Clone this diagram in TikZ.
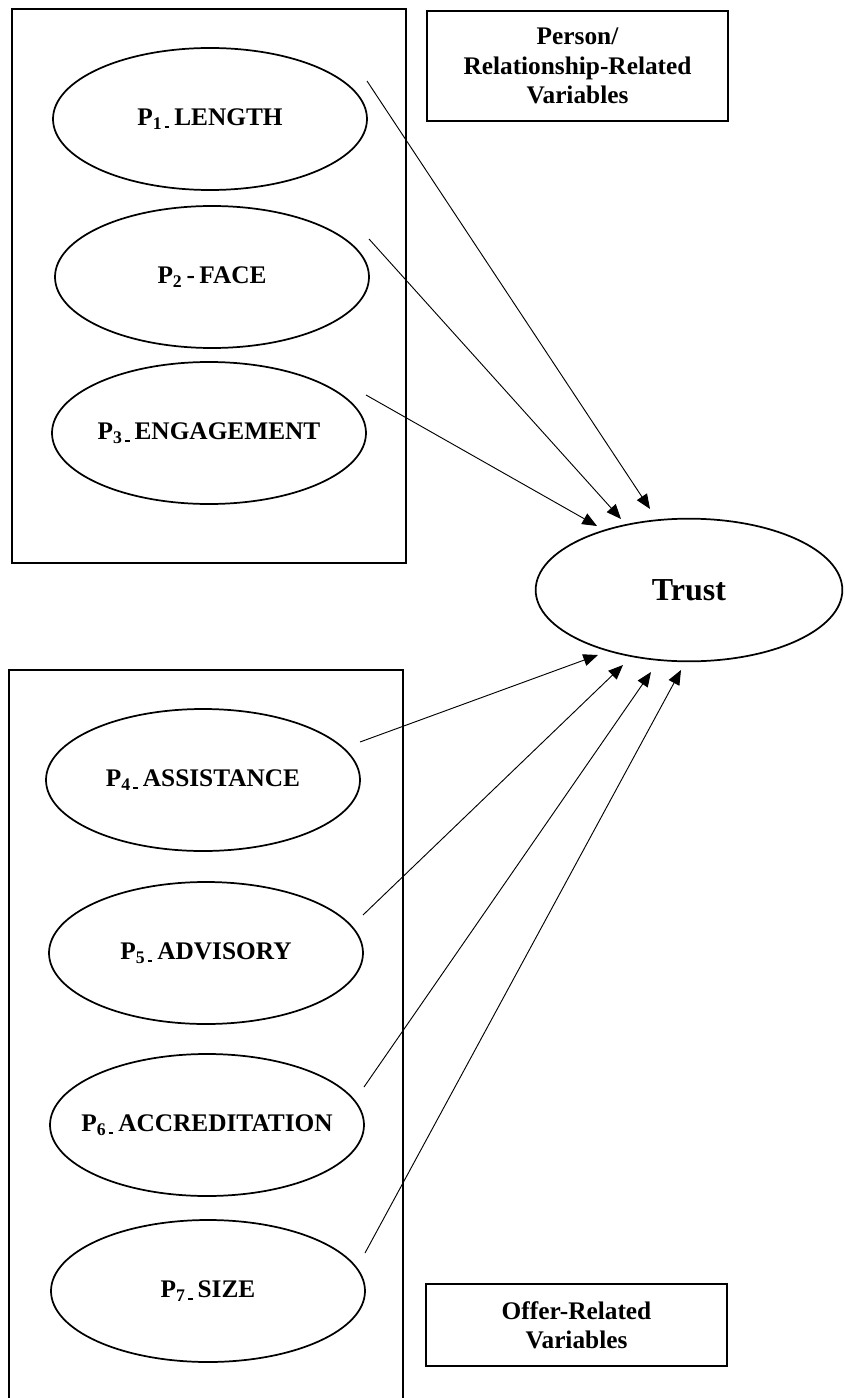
\documentclass[tikz,border=0pt]{standalone}
\usepackage{fontspec}
\setmainfont{Liberation Serif}
\usetikzlibrary{positioning, arrows.meta, shapes.geometric, calc}

\newcommand{\pvar}[2]{P\textsubscript{#1\,\rule[1.2pt]{3.6pt}{1.1pt}}\,#2}

\begin{document}
\begin{tikzpicture}[x=0.75pt, y=-0.75pt,
    var/.style={draw, ellipse, line width=1.3pt, minimum width=235.5pt, minimum height=106.5pt, inner sep=0pt},
    every label/.style={font=\bfseries\fontsize{19}{22}\selectfont},
    grp/.style={draw, line width=1.5pt, inner sep=0pt},
    tag/.style={draw, line width=1.3pt, align=center, minimum width=225.75pt, inner sep=0pt, font=\bfseries\fontsize{19}{22}\selectfont},
    arr/.style={line width=0.7pt, -{Triangle[length=11pt, width=9pt]}}]
        \useasboundingbox (0,0) rectangle (844,1398);
        % person / relationship group
        \node (grpA) [grp, minimum width=295.5pt, minimum height=415.5pt] at (209,286) {};
        \node (p1) [var, label=center:{\pvar{1}{LENGTH}}] at (210,119) {};
        \node (p2) [var, label=center:{P\textsubscript{2}\,-\,FACE}] at (212,277) {};
        \node (p3) [var, label=center:{\pvar{3}{ENGAGEMENT}}] at (209,433) {};
        \node (relTag) [tag, minimum height=82.5pt] at (577.5,66) {Person/\\Relationship-Related\\Variables};
        % offer group
        \draw [line width=1.5pt] (9,1398) |- (403,670) -- (403,1398);
        \node (p4) [var, label=center:{\pvar{4}{ASSISTANCE}}] at (203,780) {};
        \node (p5) [var, label=center:{\pvar{5}{ADVISORY}}] at (206,953) {};
        \node (p6) [var, label=center:{\pvar{6}{ACCREDITATION}}] at (207,1125) {};
        \node (p7) [var, label=center:{\pvar{7}{SIZE}}] at (208,1291) {};
        \node (offTag) [tag, minimum height=61.5pt] at (576.5,1325) {Offer-Related\\Variables};
        % outcome
        \node (t) [var, minimum width=230pt, minimum height=107pt, label={[font=\bfseries\fontsize{24}{28}\selectfont]center:Trust}] at (689,590) {};
        \foreach \src/\hx/\hy in {p1/-39/-81, p2/-68/-71, p3/-92/-64, p4/-91/65, p5/-66/75, p6/-38/82, p7/-8/80}
            \draw [arr] ($(\src)+(157,-38)$) -- ($(t)+(\hx,\hy)$);
    \end{tikzpicture}
\end{document}
